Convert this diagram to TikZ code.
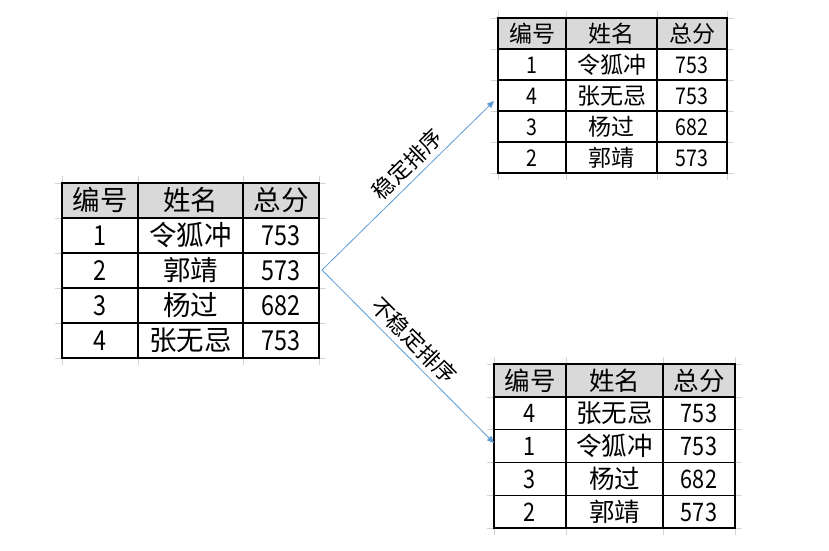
\documentclass[tikz,border=0pt]{standalone}
\usepackage{fontspec}
\usepackage{graphicx}
\setmainfont{Noto Sans CJK SC}
\usetikzlibrary{arrows.meta}
\definecolor{hdrgray}{HTML}{D9D9D9}
\definecolor{arrowblue}{HTML}{5B9BD5}
\definecolor{gridgray}{HTML}{D4D4D4}
\tikzset{
  cell/.style={inner sep=0pt, anchor=center},
  tblline/.style={line width=1.1pt, black},
  faint/.style={line width=0.8pt, gridgray},
  flow/.style={draw=arrowblue, line width=0.8pt, -{Triangle[length=7pt,width=6pt]}},
  flowlabel/.style={sloped, above, inner sep=5pt, font=\fontsize{22}{24}\selectfont}
}
\newcommand\dig[1]{\scalebox{0.85}[1]{#1}}
% #1 name, #2 x0, #3 x1, #4 x2, #5 x3, #6 top, #7 header height, #8 row height, #9 rows
\newcommand\mktable[9]{%
  \pgfmathsetmacro\tbot{#6+#7+4*#8}%
  \foreach \xx in {#2,#3,#4,#5} {\draw[faint] (\xx,#6-7) -- (\xx,\tbot+7);}
  \foreach \i in {0,...,4} {\draw[faint] (#2-7,{#6+#7+\i*#8}) -- (#5+7,{#6+#7+\i*#8});}
  \draw[faint] (#2-7,#6) -- (#5+7,#6);
  \fill[hdrgray] (#2,#6) rectangle (#5,#6+#7);
  \node[cell] (#1-h1) at ({(#2+#3)/2},{#6+#7/2}) {编号};
  \node[cell] (#1-h2) at ({(#3+#4)/2},{#6+#7/2}) {姓名};
  \node[cell] (#1-h3) at ({(#4+#5)/2},{#6+#7/2}) {总分};
  \foreach \a/\b/\c [count=\i] in {#9} {
    \pgfmathsetmacro\yy{#6+#7+(\i-0.5)*#8}
    \node[cell] (#1-\i-1) at ({(#2+#3)/2},\yy) {\dig{\a}};
    \node[cell] (#1-\i-2) at ({(#3+#4)/2},\yy) {\b};
    \node[cell] (#1-\i-3) at ({(#4+#5)/2},\yy) {\dig{\c}};
  }
  \draw[tblline] (#2,#6) rectangle (#5,\tbot);
  \foreach \xx in {#3,#4} {\draw[tblline] (\xx,#6) -- (\xx,\tbot);}
  \foreach \i in {0,...,3} {\draw[tblline] (#2,{#6+#7+\i*#8}) -- (#5,{#6+#7+\i*#8});}
}
\begin{document}
\begin{tikzpicture}[x=1pt,y=-1pt]
\useasboundingbox (0,0) rectangle (829,550);
\begin{scope}[font=\fontsize{27.5}{29}\selectfont, cell/.append style={text height=22.5pt, text depth=2pt}]
\mktable{L}{62}{138}{243}{319}{183}{35}{35}{1/令狐冲/753, 2/郭靖/573, 3/杨过/682, 4/张无忌/753}
\end{scope}
\begin{scope}[font=\fontsize{23}{25}\selectfont, cell/.append style={text height=18.8pt, text depth=1.7pt}]
\mktable{T}{498}{566}{657}{727}{18}{31}{31}{1/令狐冲/753, 4/张无忌/753, 3/杨过/682, 2/郭靖/573}
\end{scope}
\begin{scope}[font=\fontsize{25.5}{27}\selectfont, cell/.append style={text height=20.9pt, text depth=1.9pt}]
\mktable{B}{494}{566}{663}{735}{364}{33}{32.75}{4/张无忌/753, 1/令狐冲/753, 3/杨过/682, 2/郭靖/573}
\end{scope}
\coordinate (src) at (322,270);
\coordinate (tipT) at (494,101);
\coordinate (tipB) at (494,443);
\draw[flow] (src) -- node[flowlabel, pos=0.56] {稳定排序} (tipT);
\draw[flow] (src) -- node[flowlabel, pos=0.47] {不稳定排序} (tipB);
\end{tikzpicture}
\end{document}
